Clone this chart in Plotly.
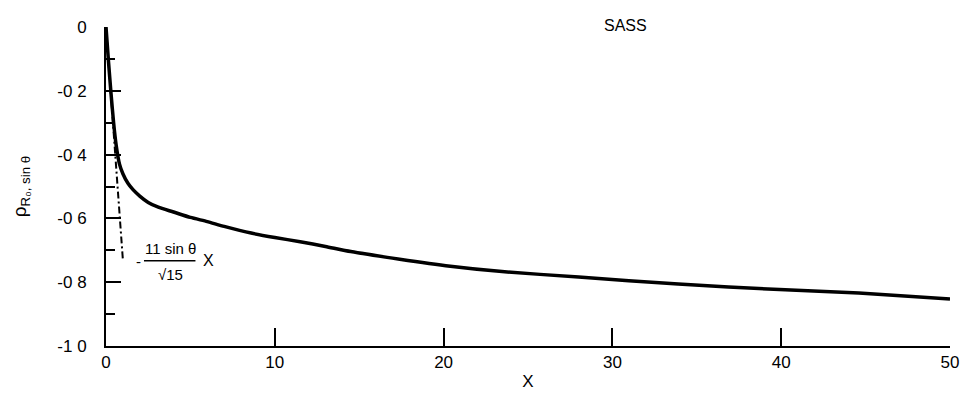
import plotly.graph_objects as go

# Curve (X, rho)
curve_x = [0, 0.15, 0.3, 0.45, 0.6, 0.8, 1.0, 1.3, 1.6, 2.0, 2.5, 3.1, 4, 5, 6, 7,
           8.6, 10, 11.5, 13, 14.5, 17.4, 20.4, 23.3, 28, 33.9, 39.9, 44.6, 50]
curve_y = [0, -0.11, -0.21, -0.30, -0.37, -0.43, -0.46, -0.49, -0.51, -0.53, -0.55,
           -0.565, -0.58, -0.597, -0.61, -0.625, -0.646, -0.66, -0.673, -0.688,
           -0.704, -0.728, -0.75, -0.766, -0.784, -0.806, -0.823, -0.834, -0.853]

# Initial slope line  -11 sin(theta)/sqrt(15) * X
slope_x = [0, 1.0]
slope_y = [0, -0.73]

x_tickvals = [0, 10, 20, 30, 40, 50]
x_ticktext = ["0", "10", "20", "30", "40", "50"]
y_tickvals = [0, -0.2, -0.4, -0.6, -0.8, -1.0]
y_ticktext = ["0", "-0 2", "-0 4", "-0 6", "-0 8", "-1 0"]

FONT = "Liberation Sans, Arial, sans-serif"

fig = go.Figure()
fig.add_trace(go.Scatter(x=slope_x, y=slope_y, mode="lines",
                         line=dict(color="black", width=2, dash="7px,3px,2px,3px"),
                         hoverinfo="skip", showlegend=False))
fig.add_trace(go.Scatter(x=curve_x, y=curve_y, mode="lines",
                         line=dict(color="black", width=3.5, shape="spline", smoothing=0.6),
                         showlegend=False))

ann_font = dict(family=FONT, size=15, color="black")
fig.add_annotation(x=1.9, y=-0.735, text="-", showarrow=False, font=ann_font,
                   xanchor="center", yanchor="middle")
fig.add_annotation(x=3.85, y=-0.695, text="11 sin θ", showarrow=False, font=ann_font,
                   xanchor="center", yanchor="middle")
fig.add_annotation(x=3.85, y=-0.775, text="√15", showarrow=False, font=ann_font,
                   xanchor="center", yanchor="middle")
fig.add_annotation(x=6.05, y=-0.733, text="X", showarrow=False,
                   font=dict(family=FONT, size=16, color="black"),
                   xanchor="center", yanchor="middle")
fig.add_shape(type="line", x0=2.25, x1=5.3, y0=-0.733, y1=-0.733,
              line=dict(color="black", width=1.5))
fig.add_annotation(xref="paper", yref="paper", x=0.615, y=1.006, text="SASS",
                   showarrow=False, font=dict(family=FONT, size=16, color="black"),
                   xanchor="center", yanchor="middle")

fig.update_xaxes(range=[0, 50], tickvals=x_tickvals, ticktext=x_ticktext,
                 showline=True, linecolor="black", linewidth=2,
                 ticks="inside", ticklen=18, tickwidth=2, tickcolor="black",
                 showgrid=False, zeroline=False,
                 tickfont=dict(family=FONT, size=17, color="black"),
                 title=dict(text="X", standoff=4,
                            font=dict(family=FONT, size=17, color="black")))
fig.update_yaxes(range=[-1, 0], tickvals=y_tickvals, ticktext=y_ticktext,
                 showline=True, linecolor="black", linewidth=2,
                 ticks="inside", ticklen=15, tickwidth=2, tickcolor="black",
                 minor=dict(dtick=0.1, tick0=0, ticks="inside", ticklen=9,
                            tickwidth=2, tickcolor="black", showgrid=False),
                 showgrid=False, zeroline=False, ticklabelstandoff=14,
                 tickfont=dict(family=FONT, size=17, color="black"),
                 title=dict(text="ρ<sub>R₀, sin θ</sub>", standoff=26,
                            font=dict(family=FONT, size=19, color="black")))

# page body adds an 8px margin, so the figure is 8px smaller than the window
fig.update_layout(width=961, height=390,
                  margin=dict(l=96, r=10, t=15, b=51),
                  paper_bgcolor="white", plot_bgcolor="white",
                  showlegend=False)

fig.write_html("out.html")
